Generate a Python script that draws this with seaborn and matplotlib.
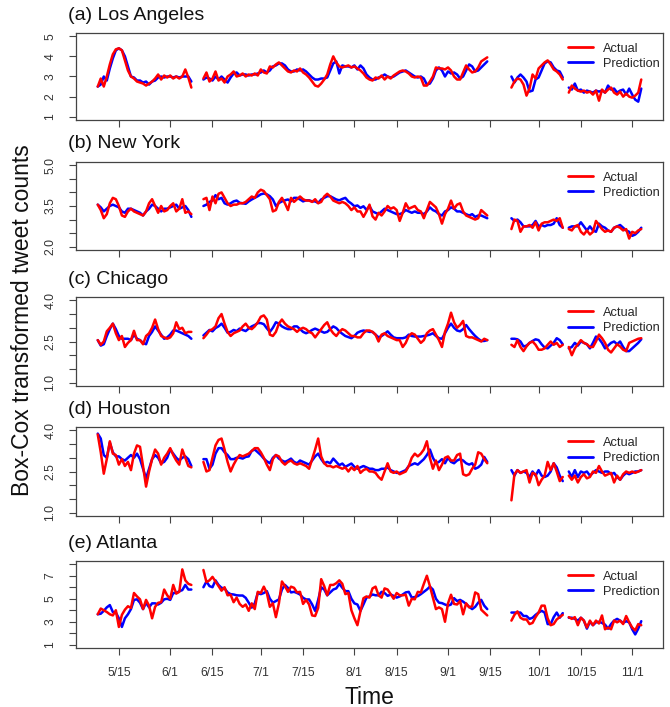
import matplotlib
matplotlib.use("Agg")
import matplotlib.pyplot as plt
from matplotlib.lines import Line2D
import pandas as pd
import seaborn as sns

# start day of each continuous stretch of data (gaps in between)
seg_starts = ["2014-05-08", "2014-06-12", "2014-09-22", "2014-10-11"]

tick_dates = ["2014-05-15", "2014-06-01", "2014-06-15", "2014-07-01", "2014-07-15", "2014-08-01",
              "2014-08-15", "2014-09-01", "2014-09-15", "2014-10-01", "2014-10-15", "2014-11-01"]
tick_labels = ["5/15", "6/1", "6/15", "7/1", "7/15", "8/1", "8/15", "9/1", "9/15", "10/1", "10/15", "11/1"]

titles = ["(a) Los Angeles", "(b) New York", "(c) Chicago", "(d) Houston", "(e) Atlanta"]
y_limits = [(1, 5), (2, 5), (1, 4), (1, 4), (1, 8)]
y_ticks = [[1, 2, 3, 4, 5],
           [2.0, 2.5, 3.0, 3.5, 4.0, 4.5, 5.0],
           [1.0, 1.5, 2.0, 2.5, 3.0, 3.5, 4.0],
           [1.0, 1.5, 2.0, 2.5, 3.0, 3.5, 4.0],
           [1, 2, 3, 4, 5, 6, 7, 8]]
y_tick_labels = [["1", "2", "3", "4", "5"],
                 ["2.0", "", "", "3.5", "", "", "5.0"],
                 ["1.0", "", "", "2.5", "", "", "4.0"],
                 ["1.0", "", "", "2.5", "", "", "4.0"],
                 ["1", "", "3", "", "5", "", "7", ""]]

la_actual = [
    [2.5, 2.9, 2.5, 3.0, 3.6, 4.1, 4.35, 4.4, 4.3, 3.8, 3.3, 3.0, 2.9, 2.75, 2.7, 2.65, 2.55, 2.65, 2.75, 2.9,
     3.1, 2.85, 3.05, 2.95, 3.05, 2.9, 3.0, 2.9, 3.0, 3.35, 2.95, 2.45],
    [2.9, 3.2, 2.75, 2.9, 3.25, 2.8, 2.9, 2.7, 3.0, 3.1, 3.25, 3.0, 3.05, 3.15, 3.0, 3.1, 3.05, 3.15, 3.05, 3.35,
     3.2, 3.15, 3.5, 3.45, 3.6, 3.7, 3.55, 3.4, 3.25, 3.2, 3.3, 3.25, 3.4, 3.2, 3.1, 2.95, 2.75, 2.55, 2.5, 2.65,
     2.85, 3.1, 3.6, 4.0, 3.7, 3.5, 3.45, 3.5, 3.55, 3.45, 3.5, 3.4, 3.3, 3.15, 2.95, 2.85, 2.8, 2.95, 2.9, 3.05,
     2.85, 3.0, 2.9, 3.05, 3.15, 3.25, 3.3, 3.25, 3.15, 3.0, 2.95, 3.0, 2.95, 2.55, 2.55, 2.75, 3.0, 3.45, 3.4, 3.4,
     3.35, 3.45, 3.3, 3.0, 2.85, 2.85, 3.2, 3.55, 3.35, 3.2, 3.25, 3.45, 3.75, 3.85, 3.95],
    [2.45, 2.75, 2.9, 2.85, 2.6, 2.05, 2.4, 3.1, 2.9, 3.4, 3.55, 3.7, 3.8, 3.6, 3.35, 3.25, 3.1, 2.85],
    [2.2, 2.55, 2.4, 2.3, 2.25, 2.3, 2.2, 2.25, 2.1, 2.3, 1.8, 2.35, 2.2, 2.35, 2.45, 2.2, 2.1, 2.25, 2.0, 2.15,
     2.0, 1.95, 2.05, 2.2, 2.85],
]
la_pred = [
    [2.5, 2.6, 3.0, 2.8, 3.4, 3.9, 4.3, 4.4, 4.3, 4.0, 3.5, 3.0, 2.95, 2.8, 2.8, 2.7, 2.75, 2.6, 2.75, 2.8,
     2.95, 3.0, 2.95, 3.0, 3.0, 2.95, 3.0, 2.95, 3.0, 3.0, 3.0, 2.75],
    [2.85, 2.95, 2.9, 2.8, 3.0, 2.85, 3.0, 2.85, 2.7, 2.95, 3.15, 3.2, 3.05, 3.1, 3.1, 3.05, 3.1, 3.1, 3.15, 3.2,
     3.3, 3.2, 3.3, 3.5, 3.55, 3.65, 3.65, 3.55, 3.35, 3.25, 3.25, 3.35, 3.3, 3.35, 3.25, 3.1, 2.95, 2.85, 2.85, 2.9,
     2.9, 2.95, 3.3, 3.65, 3.75, 3.15, 3.55, 3.5, 3.5, 3.45, 3.55, 3.35, 3.55, 3.4, 3.1, 2.95, 2.85, 2.85, 2.95, 3.0,
     3.1, 3.0, 2.95, 3.0, 3.1, 3.2, 3.25, 3.3, 3.2, 3.1, 3.0, 2.95, 3.0, 2.9, 2.6, 2.65, 2.9, 3.3, 3.45, 3.3,
     3.0, 3.25, 3.15, 3.2, 3.1, 2.9, 3.0, 3.3, 3.6, 3.5, 3.25, 3.3, 3.45, 3.6, 3.75],
    [3.0, 2.7, 2.95, 3.1, 2.95, 2.75, 2.25, 2.3, 2.85, 2.95, 3.3, 3.65, 3.75, 3.7, 3.45, 3.3, 3.25, 2.95],
    [2.45, 2.35, 2.65, 2.3, 2.35, 2.2, 2.3, 2.25, 2.2, 2.3, 2.25, 2.3, 2.2, 2.55, 2.35, 2.4, 2.2, 2.3, 2.35, 2.1,
     2.4, 2.1, 1.85, 1.75, 2.4],
]

ny_actual = [
    [3.55, 3.35, 3.05, 3.2, 3.6, 3.8, 3.75, 3.5, 3.15, 3.1, 3.3, 3.4, 3.3, 3.25, 3.2, 3.15, 3.3, 3.6, 3.75, 3.5,
     3.25, 3.5, 3.3, 3.35, 3.5, 3.6, 3.3, 3.4, 3.75, 3.25, 3.3, 3.2],
    [3.75, 3.8, 3.35, 3.85, 3.6, 3.95, 4.0, 3.8, 3.6, 3.5, 3.55, 3.55, 3.6, 3.6, 3.65, 3.75, 3.85, 3.8, 4.0, 4.1,
     4.05, 3.9, 3.75, 3.3, 3.35, 3.65, 3.8, 3.6, 3.35, 3.8, 3.65, 3.75, 3.85, 3.75, 3.7, 3.7, 3.65, 3.75, 3.6, 3.65,
     3.85, 3.95, 3.85, 3.7, 3.65, 3.6, 3.65, 3.6, 3.5, 3.35, 3.45, 3.3, 3.3, 3.1, 3.3, 3.55,
     3.12, 3.0, 3.25, 3.15, 3.3, 3.5, 3.4, 3.45, 3.35, 2.95, 3.25, 3.6, 3.4, 3.45, 3.5, 3.35, 3.3, 3.05, 3.35, 3.65,
     3.55, 3.45, 3.2, 2.85, 3.2, 3.4, 3.7, 3.4, 3.55, 3.6, 3.3, 3.15, 3.1, 3.05, 3.0, 3.05, 3.35, 3.25, 3.15],
    [2.65, 3.0, 2.95, 2.55, 2.75, 2.75, 2.8, 2.7, 2.9, 2.6, 2.85, 2.9, 2.9, 2.95, 3.0, 2.95, 3.05, 2.7],
    [2.65, 2.6, 2.75, 2.8, 2.55, 2.45, 2.6, 2.45, 2.55, 2.95, 2.8, 2.65, 2.55, 2.6, 2.55, 2.7, 2.75, 2.7, 2.6, 2.65,
     2.3, 2.55, 2.5, 2.6, 2.65],
]
ny_pred = [
    [3.55, 3.45, 3.3, 3.4, 3.5, 3.55, 3.5, 3.45, 3.3, 3.25, 3.4, 3.4, 3.35, 3.3, 3.25, 3.15, 3.3, 3.4, 3.55, 3.5,
     3.4, 3.3, 3.4, 3.4, 3.45, 3.5, 3.55, 3.4, 3.45, 3.5, 3.35, 3.1],
    [3.5, 3.55, 3.65, 3.7, 3.9, 3.75, 3.8, 3.6, 3.55, 3.6, 3.67, 3.7, 3.62, 3.6, 3.58, 3.67, 3.74, 3.8, 3.86, 3.93,
     3.96, 3.93, 3.86, 3.74, 3.5, 3.61, 3.67, 3.71, 3.74, 3.67, 3.8, 3.8, 3.74, 3.67, 3.71, 3.71, 3.67, 3.67, 3.61, 3.74,
     3.8, 3.86, 3.86, 3.8, 3.74, 3.71, 3.76, 3.8, 3.67, 3.59, 3.49, 3.52, 3.43, 3.49, 3.36, 3.49,
     3.3, 3.25, 3.2, 3.3, 3.4, 3.35, 3.3, 3.25, 3.2, 3.2, 3.25, 3.35, 3.3, 3.25, 3.3, 3.25, 3.25, 3.2, 3.3, 3.45,
     3.35, 3.3, 3.2, 3.15, 3.3, 3.35, 3.45, 3.4, 3.3, 3.3, 3.25, 3.2, 3.15, 3.2, 3.1, 3.15, 3.15, 3.1, 3.05],
    [3.05, 2.95, 3.0, 2.9, 2.75, 2.75, 2.75, 2.8, 2.95, 2.75, 2.8, 2.75, 2.8, 2.8, 2.85, 3.05, 2.8, 2.7],
    [2.7, 2.75, 2.75, 2.75, 2.9, 2.75, 2.6, 2.75, 2.6, 2.55, 2.85, 2.75, 2.7, 2.6, 2.55, 2.7, 2.75, 2.8, 2.7, 2.6,
     2.55, 2.4, 2.45, 2.55, 2.7],
]

chi_actual = [
    [2.55, 2.38, 2.5, 2.87, 3.0, 3.15, 2.8, 2.55, 2.7, 2.3, 2.45, 2.55, 2.89, 2.55, 2.55, 2.4, 2.7, 2.8, 3.0, 3.3,
     2.95, 2.7, 2.65, 2.6, 2.65, 2.8, 3.2, 2.95, 3.0, 2.8, 2.85, 2.85],
    [2.62, 2.75, 2.9, 2.95, 3.05, 3.35, 3.5, 3.15, 2.85, 2.7, 2.8, 2.85, 2.9, 3.05, 3.15, 3.0, 2.95, 3.05, 3.2, 3.4,
     3.45, 3.3, 2.75, 2.7, 2.85, 3.15, 3.3, 3.15, 3.05, 3.0, 2.95, 2.85, 2.95, 3.0, 2.95, 2.85, 2.8, 2.65, 2.8, 2.95,
     3.1, 3.2, 2.95, 2.8, 2.7, 2.85, 2.95, 2.9, 2.8, 2.7, 2.7, 2.65, 2.65, 2.8, 2.9, 2.9,
     2.85, 2.75, 2.5, 2.75, 2.8, 2.7, 2.65, 2.6, 2.55, 2.55, 2.3, 2.45, 2.7, 2.8, 2.75, 2.6, 2.45, 2.55, 2.8, 2.9,
     2.95, 2.75, 2.55, 2.3, 2.85, 3.15, 3.55, 3.2, 3.0, 3.1, 3.25, 2.7, 2.65, 2.65, 2.6, 2.55, 2.5, 2.6, 2.55],
    [2.38, 2.3, 2.55, 2.3, 2.15, 2.32, 2.45, 2.5, 2.38, 2.2, 2.2, 2.25, 2.38, 2.5, 2.38, 2.45, 2.3, 2.38],
    [2.3, 2.0, 2.25, 2.4, 2.55, 2.45, 2.4, 2.3, 2.3, 2.5, 2.75, 2.62, 2.45, 2.2, 2.1, 2.25, 2.4, 2.32, 2.2, 2.15,
     2.45, 2.5, 2.55, 2.6, 2.62],
]
chi_pred = [
    [2.55, 2.35, 2.4, 2.7, 2.95, 3.15, 2.95, 2.7, 2.6, 2.6, 2.6, 2.55, 2.75, 2.6, 2.55, 2.45, 2.4, 2.7, 2.85, 3.05,
     2.9, 2.75, 2.6, 2.65, 2.75, 2.9, 2.9, 2.85, 2.8, 2.75, 2.7, 2.6],
    [2.72, 2.82, 2.92, 2.87, 2.99, 3.05, 3.15, 3.0, 2.82, 2.85, 2.92, 2.88, 2.97, 2.92, 2.88, 2.97, 3.05, 3.1, 3.17, 3.17,
     3.13, 2.98, 2.85, 3.0, 3.2, 3.15, 3.05, 2.99, 2.95, 2.95, 3.05, 3.05, 2.95, 2.85, 2.8, 2.85, 2.92, 2.97, 2.92, 2.87,
     2.82, 2.85, 2.95, 3.05, 2.99, 2.87, 2.78, 2.7, 2.66, 2.62, 2.7, 2.82, 2.87, 2.9, 2.88, 2.85,
     2.85, 2.75, 2.65, 2.7, 2.78, 2.87, 2.75, 2.65, 2.62, 2.62, 2.62, 2.65, 2.75, 2.7, 2.68, 2.68, 2.68, 2.7, 2.72, 2.75,
     2.8, 2.7, 2.62, 2.6, 2.8, 3.0, 3.15, 3.0, 2.9, 2.87, 2.95, 3.1, 2.95, 2.82, 2.7, 2.6, 2.52, 2.52, 2.55],
    [2.6, 2.6, 2.58, 2.5, 2.32, 2.35, 2.45, 2.52, 2.58, 2.55, 2.4, 2.28, 2.25, 2.35, 2.45, 2.62, 2.55, 2.4],
    [2.25, 2.3, 2.45, 2.35, 2.5, 2.45, 2.4, 2.25, 2.45, 2.68, 2.6, 2.45, 2.25, 2.35, 2.45, 2.5, 2.4, 2.5, 2.3, 2.15,
     2.15, 2.25, 2.35, 2.45, 2.58],
]

hou_actual = [
    [3.85, 3.2, 2.42, 2.95, 3.6, 3.15, 3.1, 2.75, 2.95, 2.7, 2.85, 2.55, 3.15, 3.45, 3.4, 2.7, 1.95, 2.5, 2.95, 3.3,
     3.15, 2.75, 3.0, 3.15, 3.35, 3.1, 2.9, 2.75, 3.3, 3.0, 2.7, 2.65],
    [2.85, 2.5, 2.55, 3.0, 3.45, 3.65, 3.7, 3.3, 2.85, 2.5, 2.75, 2.95, 3.1, 3.05, 3.1, 3.15, 3.25, 3.35, 3.35, 3.2,
     3.0, 2.75, 2.55, 2.95, 3.1, 3.05, 2.85, 2.75, 2.85, 2.9, 2.8, 2.75, 2.8, 2.75, 2.7, 2.6, 2.95, 3.3, 3.7, 3.05,
     2.8, 2.7, 2.7, 2.65, 2.7, 2.65, 2.6, 2.65, 2.5, 2.65, 2.55, 2.7, 2.45, 2.55, 2.6, 2.5,
     2.5, 2.45, 2.3, 2.2, 2.5, 2.8, 2.5, 2.45, 2.5, 2.4, 2.45, 2.5, 2.7, 3.0, 3.15, 3.05, 3.15, 3.3, 3.6, 3.0,
     2.6, 2.9, 2.55, 2.75, 3.0, 3.05, 2.9, 2.9, 3.1, 3.15, 2.4, 2.35, 2.4, 2.6, 2.75, 3.2, 3.15, 2.95, 2.8],
    [1.45, 2.4, 2.55, 2.45, 2.5, 2.55, 2.1, 2.45, 2.4, 2.0, 2.2, 2.35, 2.85, 2.55, 2.8, 2.5, 2.15, 2.3],
    [2.35, 2.2, 2.35, 2.1, 2.3, 2.4, 2.25, 2.3, 2.5, 2.45, 2.7, 2.5, 2.35, 2.4, 2.45, 2.1, 2.35, 2.2, 2.4, 2.5,
     2.45, 2.5, 2.45, 2.5, 2.55],
]
hou_pred = [
    [3.88, 3.7, 3.1, 3.0, 3.55, 3.2, 3.05, 3.05, 2.95, 2.9, 3.0, 3.1, 3.0, 3.15, 2.95, 2.6, 2.25, 2.6, 2.95, 3.1,
     3.0, 2.8, 2.85, 3.0, 3.3, 3.15, 3.0, 2.9, 3.0, 3.05, 2.95, 2.7],
    [2.95, 2.95, 2.6, 2.75, 3.15, 3.35, 3.35, 3.2, 3.1, 2.95, 2.95, 3.0, 3.0, 2.97, 3.03, 3.05, 3.25, 3.3, 3.2, 3.1,
     2.97, 2.87, 2.8, 3.0, 3.1, 2.97, 2.9, 2.85, 2.9, 2.97, 2.85, 2.8, 2.9, 2.85, 2.8, 2.75, 2.9, 3.05, 3.15, 2.95,
     2.8, 2.85, 2.8, 2.97, 2.85, 2.73, 2.79, 2.67, 2.73, 2.79, 2.67, 2.6, 2.65, 2.7, 2.65, 2.6,
     2.6, 2.55, 2.55, 2.6, 2.6, 2.65, 2.55, 2.5, 2.45, 2.45, 2.5, 2.55, 2.7, 2.75, 2.8, 2.75, 2.85, 2.95, 3.1, 3.3,
     3.0, 2.8, 2.85, 2.95, 2.8, 3.0, 2.85, 2.8, 2.9, 2.95, 2.9, 2.8, 2.75, 2.8, 2.6, 2.65, 2.75, 3.03, 2.85],
    [2.55, 2.35, 2.55, 2.45, 2.5, 2.45, 2.3, 2.5, 2.35, 2.55, 2.35, 2.3, 2.35, 2.5, 2.8, 2.65, 2.35, 2.15],
    [2.5, 2.3, 2.55, 2.3, 2.5, 2.45, 2.5, 2.35, 2.45, 2.55, 2.5, 2.45, 2.5, 2.5, 2.4, 2.45, 2.3, 2.2, 2.35, 2.45,
     2.4, 2.45, 2.5, 2.5, 2.55],
]

atl_actual = [
    [3.65, 4.15, 4.0, 3.85, 3.65, 3.55, 4.0, 2.55, 3.6, 4.05, 4.35, 4.2, 5.5, 5.2, 4.95, 4.1, 4.9, 4.4, 3.3, 4.3,
     4.65, 4.7, 5.8, 5.3, 5.0, 6.2, 5.45, 5.6, 7.55, 6.6, 6.3, 6.2],
    [7.5, 6.45, 6.6, 6.9, 6.5, 6.1, 5.7, 6.0, 5.3, 5.35, 4.7, 5.1, 4.55, 4.3, 4.5, 3.95, 4.6, 4.1, 5.6, 5.5,
     6.05, 5.5, 4.3, 4.6, 3.4, 4.6, 6.5, 6.1, 5.6, 6.05, 5.95, 5.55, 5.6, 4.55, 4.9, 4.5, 3.55, 3.5, 4.2, 6.7,
     6.1, 5.3, 6.2, 6.2, 6.35, 6.6, 6.3, 5.4, 5.5, 4.0, 3.3, 2.7, 3.9, 5.05, 5.2, 5.1,
     5.9, 6.05, 5.3, 5.1, 5.9, 5.8, 5.4, 5.0, 5.5, 5.3, 5.3, 5.35, 4.4, 5.0, 4.95, 5.6, 5.55, 6.3, 7.0, 6.1,
     5.1, 4.1, 4.25, 4.1, 3.0, 4.6, 5.35, 4.55, 4.5, 4.8, 3.65, 4.6, 4.25, 4.35, 5.55, 5.4, 4.05, 3.8, 3.55],
    [3.1, 3.6, 3.9, 3.35, 3.2, 3.2, 2.8, 2.9, 3.4, 3.8, 4.4, 4.4, 3.3, 2.7, 2.8, 3.2, 3.4, 3.6],
    [3.4, 3.25, 3.4, 2.7, 3.35, 3.1, 2.5, 3.1, 2.7, 3.1, 2.85, 3.55, 2.35, 2.5, 2.35, 3.1, 2.95, 3.1, 2.8, 3.5,
     2.95, 2.5, 2.25, 2.8, 2.7],
]
atl_pred = [
    [3.65, 3.7, 3.95, 4.25, 4.45, 3.85, 3.8, 3.3, 2.55, 3.3, 3.65, 4.1, 4.9, 4.95, 4.65, 4.1, 4.65, 4.25, 4.6, 4.6,
     4.5, 4.65, 4.95, 5.0, 4.9, 5.5, 5.5, 5.65, 5.75, 6.2, 5.8, 5.8],
    [6.0, 6.5, 6.1, 6.0, 6.6, 6.2, 5.95, 5.9, 5.55, 5.4, 5.37, 5.3, 5.28, 5.28, 5.08, 4.66, 4.23, 4.6, 5.5, 5.4,
     5.5, 5.66, 5.0, 4.66, 4.8, 4.94, 5.8, 6.2, 5.94, 5.55, 5.6, 5.5, 5.37, 5.08, 4.94, 4.94, 4.51, 3.94, 4.9, 6.0,
     5.8, 5.3, 5.55, 5.8, 5.9, 6.3, 5.95, 5.66, 5.66, 5.0, 4.6, 4.5, 3.94, 4.51, 5.1, 5.2,
     5.37, 5.3, 5.3, 5.6, 5.5, 5.25, 5.37, 5.25, 5.1, 5.2, 5.37, 5.55, 5.6, 5.1, 5.15, 5.23, 5.4, 5.6, 5.8, 6.05,
     5.8, 5.0, 4.66, 4.62, 4.5, 4.4, 4.5, 5.05, 4.8, 4.9, 4.75, 4.55, 4.3, 4.1, 4.3, 4.66, 4.9, 4.4, 4.1],
    [3.8, 3.8, 3.8, 3.8, 3.5, 3.5, 3.25, 3.35, 3.6, 3.8, 3.95, 3.8, 2.8, 2.8, 3.4, 3.8, 3.35, 3.75],
    [3.35, 3.35, 3.25, 3.1, 3.35, 3.1, 2.4, 3.0, 2.7, 2.95, 3.0, 2.9, 2.75, 2.4, 2.8, 3.1, 3.25, 3.1, 2.9, 3.05,
     2.95, 2.35, 1.9, 2.4, 3.05],
]

actuals = [la_actual, ny_actual, chi_actual, hou_actual, atl_actual]
preds = [la_pred, ny_pred, chi_pred, hou_pred, atl_pred]


def long_frame(segs, name):
    parts = []
    for i, vals in enumerate(segs):
        d = pd.date_range(seg_starts[i], periods=len(vals), freq="D")
        parts.append(pd.DataFrame({"date": d, "value": vals, "series": name, "seg": i}))
    return pd.concat(parts, ignore_index=True)


sns.set_style("ticks")
plt.rcParams["font.family"] = ["Liberation Sans", "DejaVu Sans"]

W, H = 670, 707
fig = plt.figure(figsize=(W / 100, H / 100), dpi=100)

# panel boxes in pixels (left, right, top/bottom per row)
box_l, box_r = 76, 663
rows = [(33, 120), (162, 250), (297, 386), (427, 516), (561, 648)]

edge = "#444444"
txt = "#333333"

for k in range(5):
    top, bot = rows[k]
    ax = fig.add_axes([box_l / W, 1 - bot / H, (box_r - box_l) / W, (bot - top) / H])

    act = long_frame(actuals[k], "Actual")
    pre = long_frame(preds[k], "Prediction")

    sns.lineplot(data=pre, x="date", y="value", units="seg", estimator=None,
                 color="#0000FF", linewidth=1.8, ax=ax)
    sns.lineplot(data=act, x="date", y="value", units="seg", estimator=None,
                 color="#FF0000", linewidth=1.8, ax=ax)

    # R style axis range: data range plus 4 %
    d0, d1 = act["date"].min(), act["date"].max()
    pad = (d1 - d0) * 0.04
    ax.set_xlim(d0 - pad, d1 + pad)
    lo, hi = y_limits[k]
    ypad = (hi - lo) * 0.04
    ax.set_ylim(lo - ypad, hi + ypad)

    ax.set_xticks(pd.to_datetime(tick_dates))
    if k == 4:
        ax.set_xticklabels(tick_labels)
    else:
        ax.set_xticklabels([])
    ax.set_yticks(y_ticks[k])
    ax.set_yticklabels(y_tick_labels[k], rotation=90, va="center")

    ax.set_xlabel("")
    ax.set_ylabel("")
    for s in ax.spines.values():
        s.set_visible(True)
        s.set_color(edge)
        s.set_linewidth(0.9)
    ax.tick_params(direction="out", length=5, width=0.8, color=edge,
                   labelsize=8.7, labelcolor=txt)
    ax.tick_params(axis="x", pad=9)
    ax.tick_params(axis="y", pad=9)

    ax.annotate(titles[k], xy=(0, 1), xycoords="axes fraction",
                xytext=(-8, 18), textcoords="offset pixels",
                ha="left", va="center", fontsize=14, color="#111111")

    handles = [Line2D([], [], color="#FF0000", linewidth=2.0),
               Line2D([], [], color="#0000FF", linewidth=2.0)]
    ax.legend(handles, ["Actual", "Prediction"], loc="upper right",
              bbox_to_anchor=(0.994, 0.89), frameon=False, fontsize=9.2,
              handlelength=1.9, handletextpad=0.8, labelspacing=0.25,
              borderpad=0, borderaxespad=0)

fig.text(23 / W, 1 - 320 / H, "Box-Cox transformed tweet counts", rotation=90,
         ha="center", va="center", fontsize=16.5, color="#111111")
fig.text((box_l + box_r) / 2 / W, 1 - 697 / H, "Time", ha="center", va="center",
         fontsize=16.5, color="#111111")

fig.savefig("out.png", dpi=100)
